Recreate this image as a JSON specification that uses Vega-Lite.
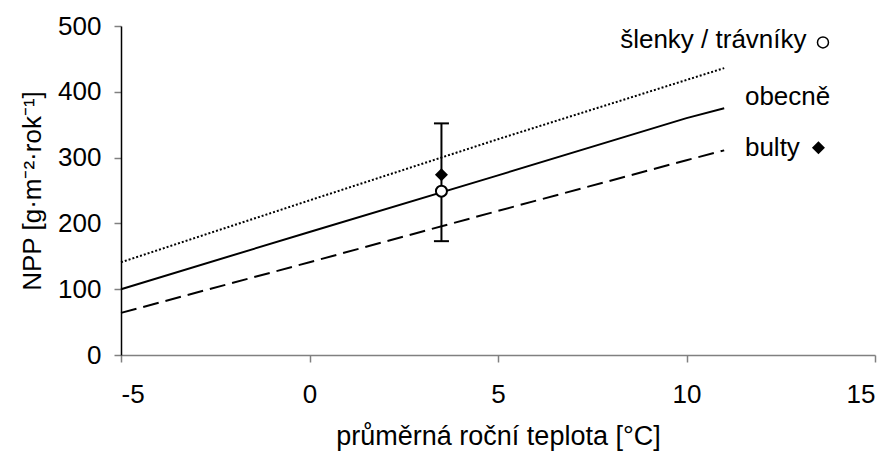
{
  "$schema": "https://vega.github.io/schema/vega-lite/v6.json",
  "autosize": "none",
  "width": 754,
  "height": 329,
  "padding": {"left": 121, "top": 26, "right": 20, "bottom": 103},
  "background": "white",
  "config": {
    "font": "Liberation Sans",
    "view": {"stroke": null},
    "axis": {"grid": false, "labelFont": "Liberation Sans", "titleFont": "Liberation Sans", "labelColor": "black", "titleColor": "black", "titleFontWeight": "normal", "labelFontSize": 26, "titleFontSize": 27, "tickSize": 7, "tickColor": "#808080", "tickWidth": 1.5}
  },
  "datasets": {
    "lines": [
      {"series": "obecne", "t": -5, "npp": 100},
      {"series": "obecne", "t": 0, "npp": 187},
      {"series": "obecne", "t": 5, "npp": 273},
      {"series": "obecne", "t": 10, "npp": 360},
      {"series": "obecne", "t": 11, "npp": 375},
      {"series": "slenky", "t": -5, "npp": 141},
      {"series": "slenky", "t": 0, "npp": 235},
      {"series": "slenky", "t": 5, "npp": 328},
      {"series": "slenky", "t": 10, "npp": 418},
      {"series": "slenky", "t": 11, "npp": 436},
      {"series": "bulty", "t": -5, "npp": 64},
      {"series": "bulty", "t": 0, "npp": 141},
      {"series": "bulty", "t": 5, "npp": 219},
      {"series": "bulty", "t": 10, "npp": 296},
      {"series": "bulty", "t": 11, "npp": 311}
    ],
    "errbar": [
      {"t": 3.5, "low": 173, "high": 352}
    ],
    "points": [
      {"kind": "slenky", "t": 3.5, "npp": 249},
      {"kind": "bulty", "t": 3.5, "npp": 274}
    ],
    "labels": [
      {"label": "šlenky / trávníky", "t": 8.24, "npp": 466},
      {"label": "obecně", "t": 11.55, "npp": 380},
      {"label": "bulty", "t": 11.55, "npp": 302}
    ],
    "legendSymbols": [
      {"kind": "slenky", "t": 13.62, "npp": 475},
      {"kind": "bulty", "t": 13.5, "npp": 315}
    ]
  },
  "layer": [
    {
      "data": {"name": "lines"},
      "transform": [{"filter": "datum.series === 'obecne'"}],
      "mark": {"type": "line", "color": "black", "strokeWidth": 2},
      "encoding": {
        "x": {"field": "t", "type": "quantitative", "scale": {"domain": [-5, 15], "nice": false, "zero": false},
          "axis": {"values": [-5, 0, 5, 10, 15], "labelExpr": "replace(datum.label, '−', '-')", "title": "průměrná roční teplota [°C]", "labelPadding": 19, "titlePadding": 16, "domainColor": "#808080", "domainWidth": 1.5}},
        "y": {"field": "npp", "type": "quantitative", "scale": {"domain": [0, 500], "nice": false},
          "axis": {"values": [0, 100, 200, 300, 400, 500], "title": "NPP [g·m⁻²·rok⁻¹]", "titleFontSize": 26, "labelPadding": 13, "titlePadding": 12, "domainColor": "black", "domainWidth": 1.5}}
      }
    },
    {
      "data": {"name": "lines"},
      "transform": [{"filter": "datum.series === 'slenky'"}],
      "mark": {"type": "line", "color": "black", "strokeWidth": 2, "strokeDash": [2, 2]},
      "encoding": {
        "x": {"field": "t", "type": "quantitative"},
        "y": {"field": "npp", "type": "quantitative"}
      }
    },
    {
      "data": {"name": "lines"},
      "transform": [{"filter": "datum.series === 'bulty'"}],
      "mark": {"type": "line", "color": "black", "strokeWidth": 2, "strokeDash": [16, 7]},
      "encoding": {
        "x": {"field": "t", "type": "quantitative"},
        "y": {"field": "npp", "type": "quantitative"}
      }
    },
    {
      "data": {"name": "errbar"},
      "mark": {"type": "rule", "color": "black", "strokeWidth": 2},
      "encoding": {
        "x": {"field": "t", "type": "quantitative"},
        "y": {"field": "low", "type": "quantitative"},
        "y2": {"field": "high"}
      }
    },
    {
      "data": {"name": "errbar"},
      "mark": {"type": "tick", "orient": "horizontal", "color": "black", "size": 15, "thickness": 2, "opacity": 1},
      "encoding": {
        "x": {"field": "t", "type": "quantitative"},
        "y": {"field": "low", "type": "quantitative"}
      }
    },
    {
      "data": {"name": "errbar"},
      "mark": {"type": "tick", "orient": "horizontal", "color": "black", "size": 15, "thickness": 2, "opacity": 1},
      "encoding": {
        "x": {"field": "t", "type": "quantitative"},
        "y": {"field": "high", "type": "quantitative"}
      }
    },
    {
      "data": {"name": "points"},
      "transform": [{"filter": "datum.kind === 'bulty'"}],
      "mark": {"type": "point", "shape": "diamond", "filled": true, "color": "black", "size": 170, "opacity": 1},
      "encoding": {
        "x": {"field": "t", "type": "quantitative"},
        "y": {"field": "npp", "type": "quantitative"}
      }
    },
    {
      "data": {"name": "points"},
      "transform": [{"filter": "datum.kind === 'slenky'"}],
      "mark": {"type": "point", "shape": "circle", "filled": true, "fill": "white", "stroke": "black", "strokeWidth": 2, "size": 121, "opacity": 1},
      "encoding": {
        "x": {"field": "t", "type": "quantitative"},
        "y": {"field": "npp", "type": "quantitative"}
      }
    },
    {
      "data": {"name": "legendSymbols"},
      "transform": [{"filter": "datum.kind === 'bulty'"}],
      "mark": {"type": "point", "shape": "diamond", "filled": true, "color": "black", "size": 170, "opacity": 1},
      "encoding": {
        "x": {"field": "t", "type": "quantitative"},
        "y": {"field": "npp", "type": "quantitative"}
      }
    },
    {
      "data": {"name": "legendSymbols"},
      "transform": [{"filter": "datum.kind === 'slenky'"}],
      "mark": {"type": "point", "shape": "circle", "filled": true, "fill": "white", "stroke": "black", "strokeWidth": 1.5, "size": 121, "opacity": 1},
      "encoding": {
        "x": {"field": "t", "type": "quantitative"},
        "y": {"field": "npp", "type": "quantitative"}
      }
    },
    {
      "data": {"name": "labels"},
      "mark": {"type": "text", "align": "left", "baseline": "alphabetic", "fontSize": 26, "font": "Liberation Sans", "color": "black"},
      "encoding": {
        "x": {"field": "t", "type": "quantitative"},
        "y": {"field": "npp", "type": "quantitative"},
        "text": {"field": "label"}
      }
    }
  ]
}
